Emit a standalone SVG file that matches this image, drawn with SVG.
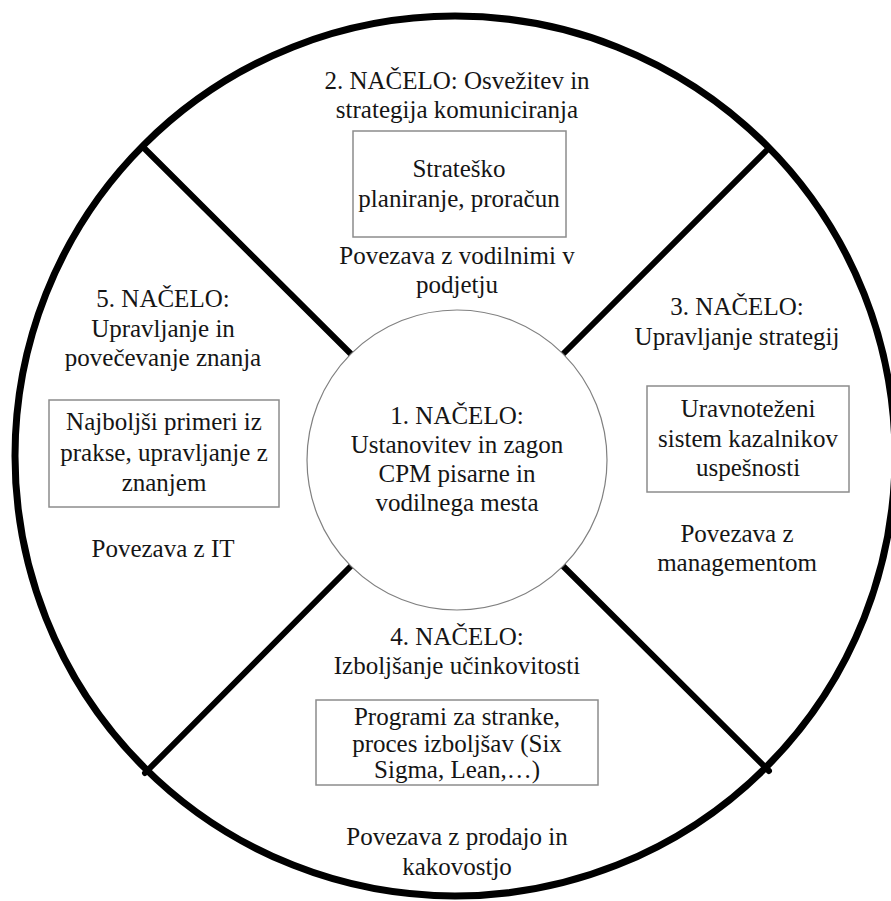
<svg xmlns="http://www.w3.org/2000/svg" width="891" height="901" viewBox="0 0 891 901">
  <style>
    .rim { fill: none; stroke: #000; stroke-width: 7; }
    .spoke { stroke: #000; stroke-width: 6; stroke-linecap: round; }
    .hub { fill: #fff; stroke: #808080; stroke-width: 1.2; }
    .box { fill: #fff; stroke: #8c8c8c; stroke-width: 1.5; }
    text { font-family: "Liberation Serif", "Times New Roman", "DejaVu Serif", serif; font-size: 25px; fill: #151515; text-anchor: middle; }
  </style>
  <rect width="891" height="901" fill="#fff"/>

  <!-- outer wheel rim -->
  <ellipse class="rim" cx="455" cy="456" rx="440" ry="440"/>

  <!-- spokes dividing the wheel -->
  <g id="connectors">
    <line class="spoke" x1="351" y1="354" x2="143" y2="147"/>
    <line class="spoke" x1="563" y1="354" x2="769" y2="148"/>
    <line class="spoke" x1="351" y1="566" x2="145" y2="773"/>
    <line class="spoke" x1="563" y1="566" x2="769" y2="771"/>
  </g>

  <!-- hub: principle 1 -->
  <g id="principle-1">
    <circle class="hub" cx="457" cy="460" r="150"/>
    <text x="457" y="424">1. NAČELO:</text>
    <text x="457" y="453">Ustanovitev in zagon</text>
    <text x="457" y="482">CPM pisarne in</text>
    <text x="457" y="511">vodilnega mesta</text>
  </g>

  <!-- top segment: principle 2 -->
  <g id="principle-2">
    <text x="457" y="89">2. NAČELO: Osvežitev in</text>
    <text x="457" y="118">strategija komuniciranja</text>
    <rect class="box" x="353" y="131" width="213" height="106"/>
    <text x="459" y="177">Strateško</text>
    <text x="459" y="207">planiranje, proračun</text>
    <text x="457" y="264">Povezava z vodilnimi v</text>
    <text x="457" y="293">podjetju</text>
  </g>

  <!-- right segment: principle 3 -->
  <g id="principle-3">
    <text x="737" y="315">3. NAČELO:</text>
    <text x="737" y="345">Upravljanje strategij</text>
    <rect class="box" x="647" y="386" width="202" height="106"/>
    <text x="748" y="417">Uravnoteženi</text>
    <text x="748" y="447">sistem kazalnikov</text>
    <text x="748" y="476">uspešnosti</text>
    <text x="737" y="542">Povezava z</text>
    <text x="737" y="571">managementom</text>
  </g>

  <!-- bottom segment: principle 4 -->
  <g id="principle-4">
    <text x="457" y="645">4. NAČELO:</text>
    <text x="457" y="674">Izboljšanje učinkovitosti</text>
    <rect class="box" x="316" y="700" width="282" height="85"/>
    <text x="457" y="725">Programi za stranke,</text>
    <text x="457" y="752">proces izboljšav (Six</text>
    <text x="457" y="778">Sigma, Lean,…)</text>
    <text x="457" y="845">Povezava z prodajo in</text>
    <text x="457" y="875">kakovostjo</text>
  </g>

  <!-- left segment: principle 5 -->
  <g id="principle-5">
    <text x="163" y="307">5. NAČELO:</text>
    <text x="163" y="337">Upravljanje in</text>
    <text x="163" y="366">povečevanje znanja</text>
    <rect class="box" x="49" y="400" width="230" height="107"/>
    <text x="164" y="430">Najboljši primeri iz</text>
    <text x="164" y="461">prakse, upravljanje z</text>
    <text x="164" y="491">znanjem</text>
    <text x="163" y="557">Povezava z IT</text>
  </g>
</svg>
